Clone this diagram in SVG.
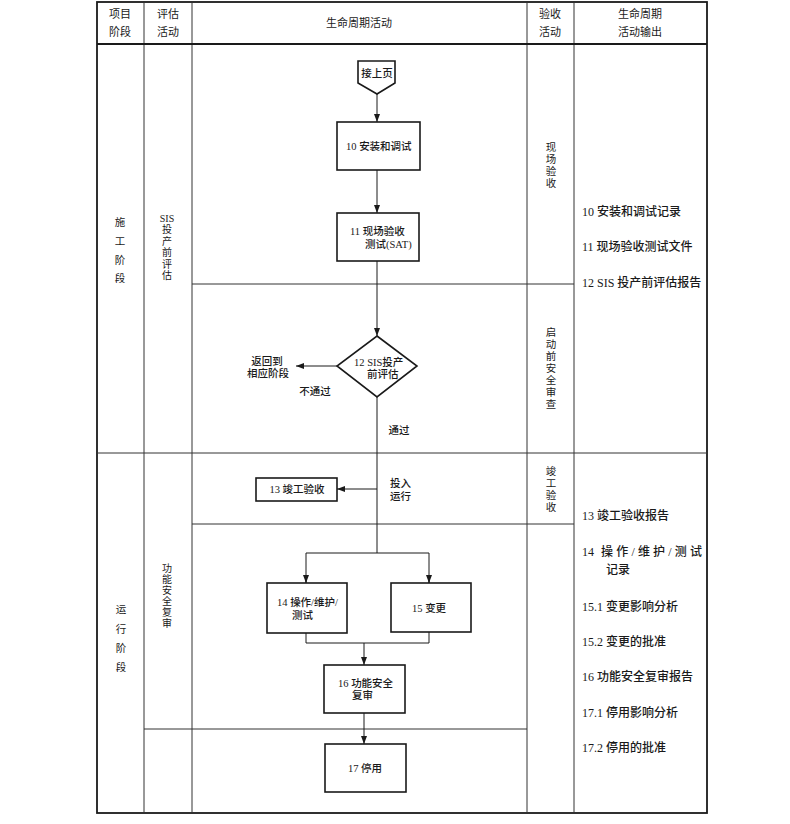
<svg xmlns="http://www.w3.org/2000/svg" width="790" height="824" viewBox="0 0 790 824">
<style>
text{font-family:"Liberation Serif","Noto Sans CJK SC",serif;fill:#1a1a1a;dominant-baseline:central}
.h{font-size:11px}
.n{font-size:10.5px;font-weight:500}
.o{font-size:12px;font-weight:500}
.v{font-size:10.5px;text-anchor:middle}
.vs{font-size:10px;text-anchor:middle}
.c{text-anchor:middle}
.grid{stroke:#333;stroke-width:1;fill:none}
.outer{stroke:#1a1a1a;stroke-width:1.8;fill:none}
.box{fill:#fff;stroke:#1a1a1a;stroke-width:1.6}
.line{stroke:#1a1a1a;stroke-width:1;fill:none}
</style>
<defs>
<marker id="ar" viewBox="0 0 8 6" refX="8" refY="3" markerWidth="8" markerHeight="6" markerUnits="userSpaceOnUse" orient="auto">
<path d="M0,0 L8,3 L0,6 z" fill="#1a1a1a"/>
</marker>
</defs>
<rect width="790" height="824" fill="#fff"/>
<g id="table">
<rect class="outer" x="97" y="2" width="610" height="811"/>
<line class="grid" x1="144" y1="2" x2="144" y2="813"/>
<line class="grid" x1="192" y1="2" x2="192" y2="813"/>
<line class="grid" x1="527" y1="2" x2="527" y2="813"/>
<line class="grid" x1="574" y1="2" x2="574" y2="813"/>
<line class="outer" x1="97" y1="44" x2="707" y2="44"/>
<line class="grid" x1="97" y1="453" x2="707" y2="453"/>
<line class="grid" x1="192" y1="284" x2="574" y2="284"/>
<line class="grid" x1="192" y1="524" x2="574" y2="524"/>
<line class="grid" x1="144" y1="729" x2="527" y2="729"/>
</g>
<g id="header">
<text class="h c" x="120" y="14">项目</text>
<text class="h c" x="120" y="32">阶段</text>
<text class="h c" x="168" y="14">评估</text>
<text class="h c" x="168" y="32">活动</text>
<text class="h c" x="359" y="23">生命周期活动</text>
<text class="h c" x="550" y="14">验收</text>
<text class="h c" x="550" y="32">活动</text>
<text class="h c" x="640" y="14">生命周期</text>
<text class="h c" x="640" y="32">活动输出</text>
</g>
<g id="phase-construction">
<text class="v" x="120" y="222">施</text>
<text class="v" x="120" y="241">工</text>
<text class="v" x="120" y="260">阶</text>
<text class="v" x="120" y="278">段</text>
</g>
<g id="phase-operation">
<text class="v" x="121" y="609">运</text>
<text class="v" x="121" y="629">行</text>
<text class="v" x="121" y="648">阶</text>
<text class="v" x="121" y="667">段</text>
</g>
<g id="eval-sis">
<text class="vs" x="167" y="218">SIS</text>
<text class="vs" x="167" y="229.5">投</text>
<text class="vs" x="167" y="241">产</text>
<text class="vs" x="167" y="252.5">前</text>
<text class="vs" x="167" y="264">评</text>
<text class="vs" x="167" y="275.5">估</text>
</g>
<g id="eval-fsa">
<text class="vs" x="167" y="568">功</text>
<text class="vs" x="167" y="579">能</text>
<text class="vs" x="167" y="590">安</text>
<text class="vs" x="167" y="601">全</text>
<text class="vs" x="167" y="612">复</text>
<text class="vs" x="167" y="623">审</text>
</g>
<g id="acc-site">
<text class="v" x="551" y="147">现</text>
<text class="v" x="551" y="159">场</text>
<text class="v" x="551" y="171">验</text>
<text class="v" x="551" y="183">收</text>
</g>
<g id="acc-pssr">
<text class="v" x="551" y="332">启</text>
<text class="v" x="551" y="344">动</text>
<text class="v" x="551" y="356">前</text>
<text class="v" x="551" y="368">安</text>
<text class="v" x="551" y="380">全</text>
<text class="v" x="551" y="392">审</text>
<text class="v" x="551" y="404">查</text>
</g>
<g id="acc-final">
<text class="v" x="551" y="471">竣</text>
<text class="v" x="551" y="483">工</text>
<text class="v" x="551" y="495">验</text>
<text class="v" x="551" y="507">收</text>
</g>
<g id="outputs">
<text class="o" x="582" y="212">10 安装和调试记录</text>
<text class="o" x="582" y="247">11 现场验收测试文件</text>
<text class="o" x="582" y="283">12 SIS 投产前评估报告</text>
<text class="o" x="582" y="516">13 竣工验收报告</text>
<text class="o" x="582" y="552">14</text>
<text class="o" x="601" y="552" textLength="101" lengthAdjust="spacing">操作/维护/测试</text>
<text class="o" x="606" y="570">记录</text>
<text class="o" x="582" y="607">15.1 变更影响分析</text>
<text class="o" x="582" y="642">15.2 变更的批准</text>
<text class="o" x="582" y="677">16 功能安全复审报告</text>
<text class="o" x="582" y="713">17.1 停用影响分析</text>
<text class="o" x="582" y="748">17.2 停用的批准</text>
</g>
<g id="connectors">
<line class="line" x1="377" y1="94" x2="377" y2="122" marker-end="url(#ar)"/>
<line class="line" x1="377" y1="170" x2="377" y2="213" marker-end="url(#ar)"/>
<line class="line" x1="377" y1="261" x2="377" y2="336" marker-end="url(#ar)"/>
<line class="line" x1="337" y1="366" x2="296" y2="366" marker-end="url(#ar)"/>
<line class="line" x1="377" y1="397" x2="377" y2="553"/>
<line class="line" x1="377" y1="489" x2="337" y2="489" marker-end="url(#ar)"/>
<polyline class="line" points="306,583 306,553 429,553 429,583"/>
<line class="line" x1="306" y1="575" x2="306" y2="583" marker-end="url(#ar)"/>
<line class="line" x1="429" y1="575" x2="429" y2="583" marker-end="url(#ar)"/>
<polyline class="line" points="306,633 306,643 429,643 429,632"/>
<line class="line" x1="364" y1="643" x2="364" y2="665" marker-end="url(#ar)"/>
<line class="line" x1="364" y1="713" x2="364" y2="744" marker-end="url(#ar)"/>
<text class="n c" x="267" y="361">返回到</text>
<text class="n c" x="268" y="373">相应阶段</text>
<text class="n c" x="315" y="391">不通过</text>
<text class="n c" x="399" y="430">通过</text>
<text class="n" x="390" y="483">投入</text>
<text class="n" x="390" y="496">运行</text>
</g>
<g id="n-prev">
<polygon class="box" points="358,61 395,61 395,83 377,94 358,83"/>
<text class="n c" x="377" y="73">接上页</text>
</g>
<g id="n10">
<rect class="box" x="337" y="122" width="83" height="48"/>
<text class="n" x="346" y="146">10 安装和调试</text>
</g>
<g id="n11">
<rect class="box" x="337" y="213" width="82" height="48"/>
<text class="n" x="350" y="231">11 现场验收</text>
<text class="n" x="365" y="244">测试(SAT)</text>
</g>
<g id="n12">
<polygon class="box" points="377,336 417,366 377,397 337,366"/>
<text class="n" x="354" y="362">12 SIS投产</text>
<text class="n" x="367" y="374">前评估</text>
</g>
<g id="n13">
<rect class="box" x="256" y="478" width="81" height="23"/>
<text class="n c" x="297" y="489">13 竣工验收</text>
</g>
<g id="n14">
<rect class="box" x="267" y="583" width="80" height="50"/>
<text class="n" x="277" y="602">14 操作/维护/</text>
<text class="n" x="292" y="615">测试</text>
</g>
<g id="n15">
<rect class="box" x="391" y="583" width="80" height="49"/>
<text class="n" x="412" y="608">15 变更</text>
</g>
<g id="n16">
<rect class="box" x="324" y="665" width="81" height="48"/>
<text class="n" x="338" y="683">16 功能安全</text>
<text class="n" x="352" y="695">复审</text>
</g>
<g id="n17">
<rect class="box" x="325" y="744" width="81" height="48"/>
<text class="n c" x="365" y="768">17 停用</text>
</g>
</svg>
